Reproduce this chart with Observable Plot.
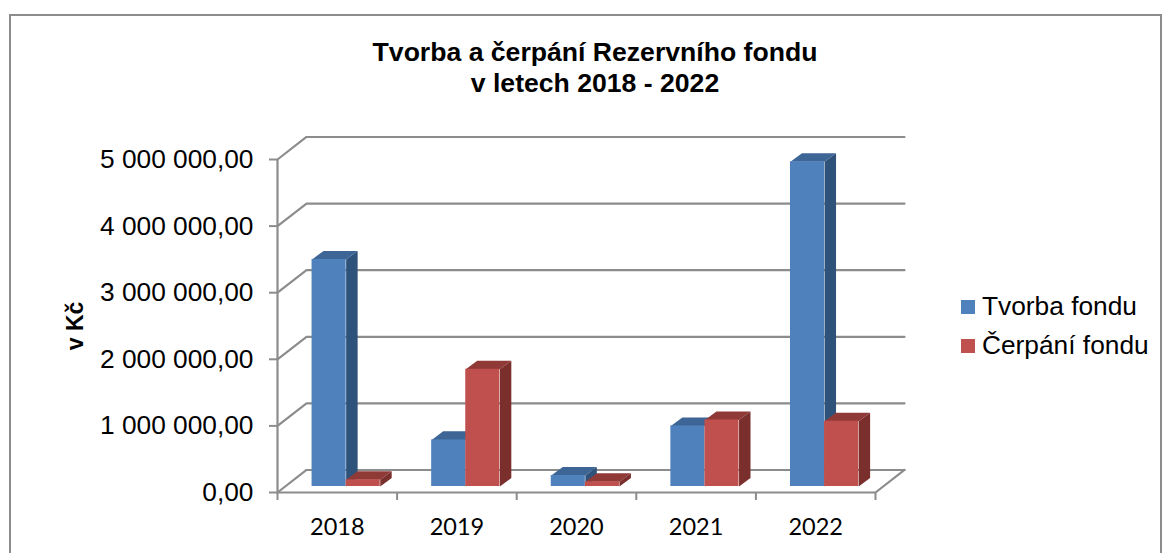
<!DOCTYPE html>
<html lang="cs">
<head>
<meta charset="utf-8">
<script src="https://cdn.jsdelivr.net/npm/d3@7"></script>
<script src="https://cdn.jsdelivr.net/npm/@observablehq/plot@0.6"></script>
<style>
html,body{margin:0;padding:0;background:#fff;width:1170px;height:553px;overflow:hidden}
#frame{position:absolute;left:9px;top:14px;width:1149px;height:600px;border:2px solid #8c8c8c;box-sizing:content-box}
#chart{position:absolute;left:0;top:0}
#title{position:absolute;left:295px;top:37px;width:600px;text-align:center;font:bold 26.6px/31px "Liberation Sans",Arial,sans-serif;color:#000}
#legend{position:absolute;left:961px;top:287px;font:26.3px/39px "Liberation Sans",Arial,sans-serif;color:#000}
#legend div{display:flex;align-items:center;white-space:nowrap}
#legend i{display:block;width:14px;height:14px;margin-right:7px}
</style>
</head>
<body>
<div id="frame"></div>
<div id="chart"></div>
<div id="title">Tvorba a čerpání Rezervního fondu<br>v letech 2018 - 2022</div>
<div id="legend"></div>
<script>
const years = ["2018", "2019", "2020", "2021", "2022"];
const tvorba = [3410000, 700000, 165000, 910000, 4875000];
const cerpani = [100000, 1760000, 70000, 1000000, 980000];
const seriesNames = ["Tvorba fondu", "Čerpání fondu"];
const yTicks = [0, 1000000, 2000000, 3000000, 4000000, 5000000];
const yTickLabels = ["0,00", "1 000 000,00", "2 000 000,00", "3 000 000,00", "4 000 000,00", "5 000 000,00"];

const palette = [
  {front: "#4f81bd", top: "#3d6595", side: "#2f527b"},
  {front: "#c0504d", top: "#903a38", side: "#7a2f2d"}
];
// 3D projection expressed in data units (categories, CZK)
const wallX = 0.2425, wallY = 338000;
const barLeft = 0.289, barW = 0.285, baseY = 90000;
const depthX = 0.096, depthY = 128000;

const series = [tvorba, cerpani];
const fronts = [], faces = [];
series.forEach((vals, s) => {
  vals.forEach((v, i) => {
    const x1 = i + barLeft + s * barW, x2 = x1 + barW;
    const y1 = baseY, y2 = baseY + v;
    fronts.push({x1, x2, y1, y2, fill: palette[s].front});
    const topId = `t${s}-${i}`, sideId = `s${s}-${i}`;
    [[x1, y2], [x1 + depthX, y2 + depthY], [x2 + depthX, y2 + depthY], [x2, y2], [x1, y2]]
      .forEach(([x, y]) => faces.push({x, y, id: topId, fill: palette[s].top}));
    [[x2, y1], [x2 + depthX, y1 + depthY], [x2 + depthX, y2 + depthY], [x2, y2], [x2, y1]]
      .forEach(([x, y]) => faces.push({x, y, id: sideId, fill: palette[s].side}));
  });
});

// back wall grid lines and floor
const walls = [];
yTicks.forEach((t, k) => {
  walls.push({x: 0, y: t, id: k}, {x: wallX, y: t + wallY, id: k}, {x: 5 + wallX, y: t + wallY, id: k});
});
walls.push({x: 5, y: 0, id: "floor"}, {x: 5 + wallX, y: wallY, id: "floor"});

const gray = "#8c8c8c";
const labelFont = "'Liberation Sans', Arial, sans-serif";
const plot = Plot.plot({
  width: 1170, height: 553,
  marginLeft: 277, marginRight: 295, marginTop: 159, marginBottom: 61,
  style: {background: "transparent", overflow: "visible"},
  x: {domain: [0, 5], axis: null},
  y: {domain: [0, 5000000], axis: null},
  marks: [
    Plot.line(walls, {x: "x", y: "y", z: "id", stroke: gray, strokeWidth: 2.2}),
    Plot.ruleX([0], {y1: 0, y2: 5000000, stroke: gray, strokeWidth: 2.2}),
    Plot.ruleY([0], {x1: 0, x2: 5, stroke: gray, strokeWidth: 2.2}),
    Plot.axisY({
      ticks: yTicks, tickFormat: (d) => yTickLabels[yTicks.indexOf(d)], label: null,
      tickSize: 8, tickPadding: 16, stroke: gray, strokeWidth: 2,
      fontSize: 26.3, fontFamily: labelFont, fill: "#000"
    }),
    Plot.axisX({
      ticks: d3.range(0, 6), tickFormat: () => "", label: null,
      tickSize: 8, stroke: gray, strokeWidth: 2
    }),
    Plot.axisX({
      ticks: years.map((_, i) => i + 0.5), tickFormat: (d) => years[Math.floor(d)], label: null,
      tickSize: 0, tickPadding: 26, stroke: null,
      fontSize: 23.5, fontFamily: "Lato, sans-serif", fill: "#000"
    }),
    Plot.text(["v Kč"], {
      frameAnchor: "left", textAnchor: "middle", dx: -202, rotate: -90, fontWeight: "bold", fontSize: 23,
      fontFamily: labelFont, fill: "#000"
    }),
    Plot.line(faces, {x: "x", y: "y", z: "id", fill: "fill", stroke: null}),
    Plot.rect(fronts, {x1: "x1", x2: "x2", y1: "y1", y2: "y2", fill: "fill"})
  ]
});
document.getElementById("chart").append(plot);

const legend = document.getElementById("legend");
seriesNames.forEach((name, s) => {
  const row = document.createElement("div");
  const swatch = document.createElement("i");
  swatch.style.background = palette[s].front;
  row.append(swatch, name);
  legend.append(row);
});
</script>
</body>
</html>
